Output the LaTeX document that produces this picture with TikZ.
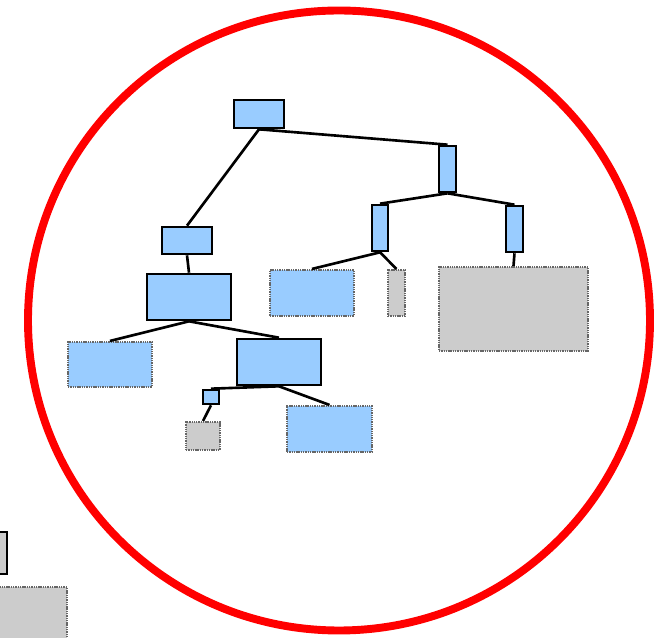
\documentclass[tikz,border=0pt]{standalone}
\usepackage{tikz}

\definecolor{boxblue}{HTML}{99CCFF}
\definecolor{boxgray}{HTML}{CCCCCC}

\tikzset{
  inner/.style={draw, line width=1.5pt, fill=boxblue, inner sep=0pt},
  leaf/.style={draw=gray!80!black, line width=1.2pt, dash pattern=on 0.8pt off 0.5pt, fill=boxblue, inner sep=0pt},
  grayleaf/.style={leaf, fill=boxgray},
  edge/.style={line width=1.5pt}
}

\begin{document}
\begin{tikzpicture}[x=0.02cm, y=-0.02cm]

    \useasboundingbox (0,0) rectangle (657,638);
    \clip (0,0) rectangle (657,638);

    \draw[red, line width=4.5pt] (339,320.5) circle [x radius=311, y radius=310];

    % inner nodes
    \node[inner, minimum width=1.0cm, minimum height=0.56cm] (root) at (259,114) {};
    \node[inner, minimum width=0.34cm, minimum height=0.92cm] (right) at (447.5,169) {};
    \node[inner, minimum width=1.0cm, minimum height=0.54cm] (left) at (187,240.5) {};
    \node[inner, minimum width=1.68cm, minimum height=0.92cm] (mid) at (189,297) {};
    \node[inner, minimum width=0.32cm, minimum height=0.92cm] (rl) at (380,228) {};
    \node[inner, minimum width=0.34cm, minimum height=0.92cm] (rr) at (514.5,229) {};
    \node[inner, minimum width=1.68cm, minimum height=0.92cm] (mr) at (279,362) {};
    \node[inner, minimum width=0.32cm, minimum height=0.28cm] (small) at (211,397) {};

    % leaves
    \node[leaf, minimum width=1.68cm, minimum height=0.92cm] (rla) at (312,293) {};
    \node[grayleaf, minimum width=0.34cm, minimum height=0.92cm] (rlb) at (396.5,293) {};
    \node[grayleaf, minimum width=2.98cm, minimum height=1.68cm] (rra) at (513.5,309) {};
    \node[leaf, minimum width=1.68cm, minimum height=0.9cm] (ml) at (110,364.5) {};
    \node[grayleaf, minimum width=0.68cm, minimum height=0.56cm] (sa) at (203,436) {};
    \node[leaf, minimum width=1.7cm, minimum height=0.92cm] (mrb) at (329.5,429) {};

    % neighbour tree, cut off
    \node[inner, fill=boxgray, minimum width=0.34cm, minimum height=0.84cm] (other) at (-1.5,553) {};
    \node[grayleaf, minimum width=2.98cm, minimum height=1.68cm] (otherleaf) at (-7.5,629) {};

    \draw[edge] (root.south) -- (left.north);
    \draw[edge] (root.south) -- (right.north);
    \draw[edge] (left.south) -- (mid.north);
    \draw[edge] (right.south) -- (rl.north);
    \draw[edge] (right.south) -- (rr.north);
    \draw[edge] (rl.south) -- (rla.north);
    \draw[edge] (rl.south) -- (rlb.north);
    \draw[edge] (rr.south) -- (rra.north);
    \draw[edge] (mid.south) -- (ml.north);
    \draw[edge] (mid.south) -- (mr.north);
    \draw[edge] (mr.south) -- (small.north);
    \draw[edge] (mr.south) -- (mrb.north);
    \draw[edge] (small.south) -- (sa.north);
    \draw[edge] (other.south) -- (otherleaf.north);

  \end{tikzpicture}
\end{document}
